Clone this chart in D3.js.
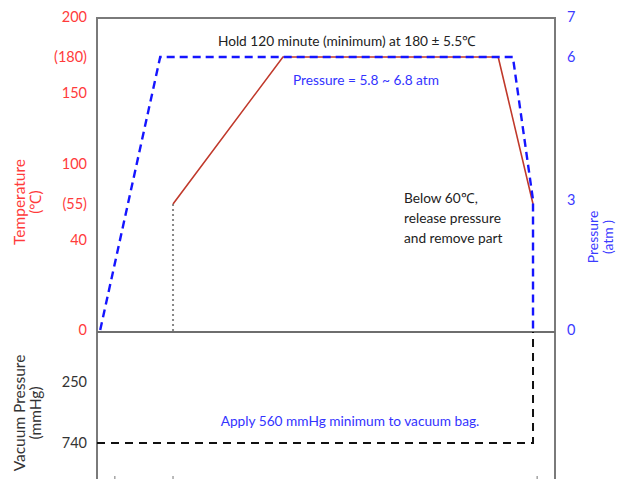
<!DOCTYPE html>
<html><head><meta charset="utf-8">
<script src="https://cdn.jsdelivr.net/npm/d3@7/dist/d3.min.js"></script>
<style>body{margin:0;background:#fff}svg{display:block;font-family:Lato,"Open Sans",sans-serif}</style>
</head><body><svg id="c" width="626" height="479"></svg>
<script>
// Data (schematic cure cycle, time in arbitrary units 0..100)
const tempTicks = [0, 40, 55, 100, 150, 180, 200];
const tempTickLabels = ["0", "40", "(55)", "100", "150", "(180)", "200"];
const pressTicks = [0, 3, 6, 7];
const vacTicks = [250, 740];
const tempTime = [16.6, 40.6, 87.6, 95.2];
const tempValue = [55, 180, 180, 55];
const pressTime = [0.7, 13.8, 90.8, 95.2, 95.2];
const pressValue = [0, 6, 6, 3, 0];
const vacTime = [0, 95.2, 95.2];
const vacValue = [740, 740, 0];
const cureStartTime = 16.6;
const xTickTimes = [3.9, 16.6, 96.1];

const svg = d3.select("#c");
const L = 97, R = 555, T = 18, MID = 332, B = 479;

const x = d3.scaleLinear().domain([0, 100]).range([L, R]);
// schematic (non-linear) axes
const yT = d3.scaleLinear().domain(tempTicks).range([330, 240, 204, 164, 93, 57, 17]);
const yP = d3.scaleLinear().domain(pressTicks).range([330, 200, 57, 17]);
const yV = d3.scaleLinear().domain([0, 250, 740]).range([MID, 382, 443]);

// frame
const g = svg.append("g");
g.append("rect").attr("x", L).attr("y", T).attr("width", R - L).attr("height", B + 5 - T)
  .attr("fill", "none").attr("stroke", "#7a7a7a").attr("stroke-width", 2);
g.append("line").attr("x1", L).attr("x2", R).attr("y1", MID).attr("y2", MID)
  .attr("stroke", "#6e6e6e").attr("stroke-width", 2);
xTickTimes.forEach(t => g.append("line").attr("x1", x(t)).attr("x2", x(t)).attr("y1", B).attr("y2", B - 3)
  .attr("stroke", "#777").attr("stroke-width", 1));

// left temperature axis
const axT = svg.append("g").attr("transform", `translate(${L - 7},0)`)
  .call(d3.axisLeft(yT).tickValues(tempTicks).tickSize(0).tickFormat((d, i) => tempTickLabels[i]));
axT.select(".domain").remove();
axT.selectAll("text").attr("fill", "#ff3b3b").attr("font-size", 14.5).attr("font-family", "Lato");
// vacuum axis
const axV = svg.append("g").attr("transform", `translate(${L - 7},0)`)
  .call(d3.axisLeft(yV).tickValues(vacTicks).tickSize(0));
axV.select(".domain").remove();
axV.selectAll("text").attr("fill", "#333").attr("font-size", 14.5).attr("font-family", "Lato");
// right pressure axis
const axP = svg.append("g").attr("transform", `translate(${R + 9},0)`)
  .call(d3.axisRight(yP).tickValues(pressTicks).tickSize(0).tickFormat(d3.format("d")));
axP.select(".domain").remove();
axP.selectAll("text").attr("fill", "#3b3bff").attr("font-size", 14.5).attr("font-family", "Lato");

// axis titles
function vTitle(cx, cy, lines, color, size, gap) {
  const t = svg.append("text").attr("transform", `translate(${cx},${cy}) rotate(-90)`)
    .attr("text-anchor", "middle").attr("fill", color).attr("font-size", size);
  lines.forEach((s, i) => t.append("tspan").attr("x", 0).attr("dy", i === 0 ? 0 : gap).text(s));
}
vTitle(25, 202, ["Temperature", "(℃)"], "#ff3b3b", 15.5, 16);
vTitle(25, 413, ["Vacuum Pressure", "(mmHg)"], "#333", 15.5, 16);
vTitle(598, 237, ["Pressure", "(atm )"], "#3b3bff", 14, 15);

// gray dotted guide
svg.append("line").attr("x1", x(cureStartTime)).attr("x2", x(cureStartTime))
  .attr("y1", yT(55)).attr("y2", MID).attr("stroke", "#888").attr("stroke-width", 2)
  .attr("stroke-dasharray", "2,3");

// vacuum line
svg.append("path").datum(vacTime.map((t, i) => [t, vacValue[i]]))
  .attr("d", d3.line().x(d => x(d[0])).y(d => yV(d[1])))
  .attr("fill", "none").attr("stroke", "#111").attr("stroke-width", 2).attr("stroke-dasharray", "8,6");

// temperature line
svg.append("path").datum(tempTime.map((t, i) => [t, tempValue[i]]))
  .attr("d", d3.line().x(d => x(d[0])).y(d => yT(d[1])))
  .attr("fill", "none").attr("stroke", "#c0392b").attr("stroke-width", 1.6);

// pressure line
svg.append("path").datum(pressTime.map((t, i) => [t, pressValue[i]]))
  .attr("d", d3.line().x(d => x(d[0])).y(d => yP(d[1])))
  .attr("fill", "none").attr("stroke", "#1515ff").attr("stroke-width", 2.4).attr("stroke-dasharray", "8,5");

// annotations
svg.append("text").attr("x", 347).attr("y", 46).attr("text-anchor", "middle")
  .attr("fill", "#222").attr("font-size", 13.7).text("Hold 120 minute (minimum) at 180 ± 5.5℃");
svg.append("text").attr("x", 366).attr("y", 85).attr("text-anchor", "middle")
  .attr("fill", "#3333ff").attr("font-size", 13.7).text("Pressure = 5.8 ~ 6.8 atm");
const nb = svg.append("text").attr("fill", "#222").attr("font-size", 13.7);
["Below 60℃,", "release pressure", "and remove part"].forEach((s, i) =>
  nb.append("tspan").attr("x", 404).attr("y", 203 + i * 20).text(s));
svg.append("text").attr("x", 350).attr("y", 426).attr("text-anchor", "middle")
  .attr("fill", "#3333ff").attr("font-size", 13.7).text("Apply 560 mmHg minimum to vacuum bag.");
</script></body></html>
